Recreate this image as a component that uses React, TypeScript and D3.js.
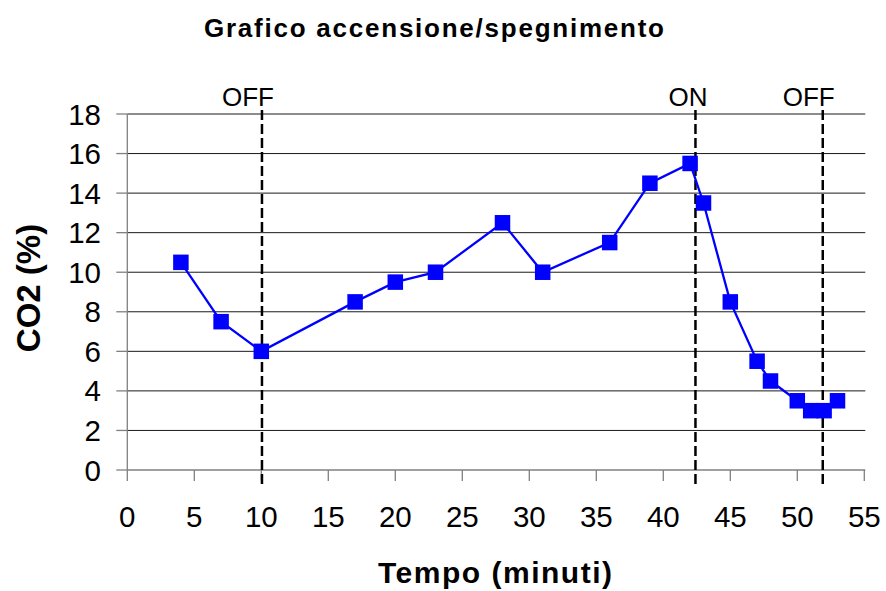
import React from 'react';
import * as d3 from 'd3';

const tempo = [4, 7, 10, 17, 20, 23, 28, 31, 36, 39, 42, 43, 45, 47, 48, 50, 51, 52, 53];
const co2 = [10.5, 7.5, 6, 8.5, 9.5, 10, 12.5, 10, 11.5, 14.5, 15.5, 13.5, 8.5, 5.5, 4.5, 3.5, 3, 3, 3.5];
const xTicks = [0, 5, 10, 15, 20, 25, 30, 35, 40, 45, 50, 55];
const yTicks = [0, 2, 4, 6, 8, 10, 12, 14, 16, 18];
const eventi = [
  { t: 10.05, label: 'OFF' },
  { t: 42.4, label: 'ON' },
  { t: 51.9, label: 'OFF' },
];

const W = 886;
const H = 591;
const font = '"Liberation Sans", Arial, sans-serif';

export default function App() {
  const x = d3.scaleLinear().domain([0, 55]).range([127.3, 864.3]);
  const y = d3.scaleLinear().domain([0, 18]).range([470, 114]);
  const data = tempo.map((t, i) => ({ t, v: co2[i] }));
  const line = d3.line<{ t: number; v: number }>().x(d => x(d.t)).y(d => y(d.v));
  const [x0, x1] = x.range();
  const y0 = y(0);
  const sq = 15.5;

  return (
    <svg width={W} height={H} style={{ position: 'absolute', left: 0, top: 0, background: '#fff' }} fontFamily={font}>
      <text x={434} y={37} textAnchor="middle" fontSize={26} fontWeight="bold" textLength={460} lengthAdjust="spacing">
        Grafico accensione/spegnimento
      </text>

      {/* grid */}
      {yTicks.filter(d => d > 0).map(d => (
        <line key={'g' + d} x1={x0} x2={x1 + 1} y1={y(d)} y2={y(d)} stroke="#1a1a1a" strokeWidth={1} />
      ))}

      {/* axes */}
      <line x1={x0} x2={x0} y1={y(18)} y2={y0} stroke="#808080" strokeWidth={1.3} />
      <line x1={x0} x2={x1 + 1} y1={y0} y2={y0} stroke="#808080" strokeWidth={1.3} />
      {yTicks.map(d => (
        <g key={'y' + d}>
          <line x1={x0 - 11} x2={x0} y1={y(d)} y2={y(d)} stroke="#808080" strokeWidth={1.3} />
          <text x={101} y={y(d) + 10.5} textAnchor="end" fontSize={29.5}>{d}</text>
        </g>
      ))}
      {xTicks.map(d => (
        <g key={'x' + d}>
          <line x1={x(d)} x2={x(d)} y1={y0} y2={y0 + 11} stroke="#808080" strokeWidth={1.3} />
          <text x={x(d)} y={527} textAnchor="middle" fontSize={29.5}>{d}</text>
        </g>
      ))}

      {/* event markers */}
      {eventi.map((e, i) => (
        <g key={'e' + i}>
          <line x1={x(e.t)} x2={x(e.t)} y1={110} y2={484} stroke="#000" strokeWidth={2.5} strokeDasharray="10,4" />
          <text x={x(e.t) + 12} y={106} textAnchor="end" fontSize={26}>{e.label}</text>
        </g>
      ))}

      {/* series */}
      <path d={line(data) ?? ''} fill="none" stroke="#0000ff" strokeWidth={2.3} />
      {data.map((d, i) => (
        <rect key={'p' + i} x={x(d.t) - sq / 2} y={y(d.v) - sq / 2} width={sq} height={sq} fill="#0000ff" />
      ))}

      <text x={495} y={583} textAnchor="middle" fontSize={30} fontWeight="bold" textLength={234} lengthAdjust="spacing">
        Tempo (minuti)
      </text>
      <text transform="translate(40,288) rotate(-90)" textAnchor="middle" fontSize={33} fontWeight="bold">
        CO2 (%)
      </text>
    </svg>
  );
}
